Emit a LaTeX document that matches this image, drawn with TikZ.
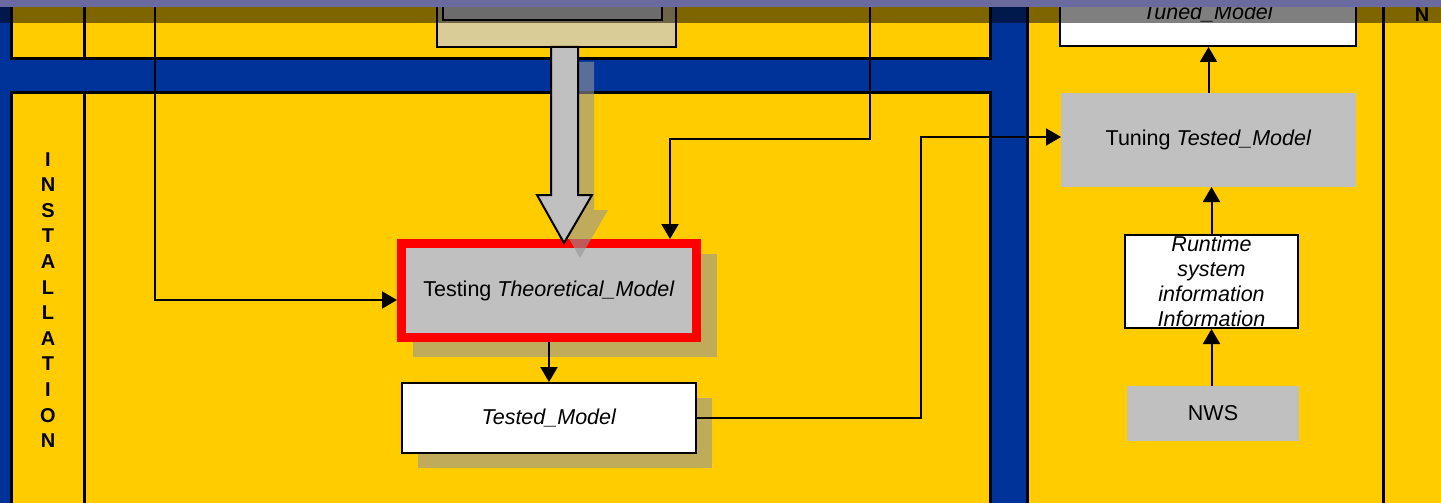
\documentclass[tikz,border=0pt]{standalone}
\usepackage{fontspec}
\setmainfont{Liberation Sans}
\usetikzlibrary{arrows.meta,calc}

\definecolor{laneblue}{RGB}{0,51,153}
\definecolor{laneyellow}{RGB}{255,204,0}
\definecolor{boxgray}{RGB}{192,192,192}
\definecolor{framered}{RGB}{255,0,0}
\definecolor{topslate}{RGB}{106,106,158}
\definecolor{hazebox}{RGB}{218,204,150}
\definecolor{shadowgray}{RGB}{150,150,150}

\begin{document}
\begin{tikzpicture}[x=1pt,y=-1pt,
  lane/.style={fill=laneyellow,draw=black,line width=3pt},
  lanerule/.style={draw=black,line width=3pt},
  boxbase/.style={inner sep=0pt,outer sep=0pt,align=center,
    font=\fontsize{21.5}{25}\selectfont},
  plainbox/.style={boxbase,fill=boxgray},
  whitebox/.style={boxbase,fill=white,draw=black,line width=2pt,outer sep=1pt},
  shadowbox/.style={fill=shadowgray,fill opacity=0.6},
  lanelabel/.style={inner sep=0pt,align=center,
    font=\bfseries\fontsize{20}{25.6}\selectfont},
  conn/.style={draw=black,line width=2pt,-{Triangle[length=15pt,width=17pt]}},
  blockarrow/.style={fill=boxgray,draw=black,line width=2pt,line join=miter}
]
\useasboundingbox (0,0) rectangle (1441,503);
\clip (0,0) rectangle (1441,503);

% background and swimlanes
\fill[laneblue] (0,0) rectangle (1441,503);
\draw[lane] (11,-10) rectangle (990,59);
\draw[lanerule] (84,-10) -- (84,59);
\draw[lane] (11,93) rectangle (990,520);
\draw[lanerule] (84,93) -- (84,520);
\fill[laneyellow] (1027,-10) rectangle (1450,520);
\draw[lanerule] (1027,-10) -- (1027,520);
\draw[lanerule] (1383,-10) -- (1383,520);

% lane labels
\node[lanelabel] (installlabel) at (48,300) {I\\N\\S\\T\\A\\L\\L\\A\\T\\I\\O\\N};
\node[lanelabel,anchor=base] (nlabel) at (1422,22) {N};

% source box at the top of the block arrow
\node[draw=black,line width=2pt,fill=hazebox,inner sep=0pt,
  minimum width=239,minimum height=67] (topbox) at (556.5,13.5) {};
\node[draw=black,line width=1.5pt,fill=boxgray!60!white,inner sep=0pt,
  minimum width=219,minimum height=40] (topinner) at (552.5,0) {};

% drop shadows of the two left boxes
\fill[shadowbox] (418,398) rectangle (712,468);
\fill[shadowbox] (413,254) rectangle (717,357);

% testing step
\node[plainbox,draw=framered,line width=9pt,outer sep=4.5pt,
  minimum width=295,minimum height=94] (testing) at (549,290.5)
  {Testing \textit{Theoretical\_Model}};

% tested model
\node[whitebox,minimum width=294,minimum height=70] (tested) at (549,418)
  {\textit{Tested\_Model}};

% block arrow and its shadow
\fill[shadowbox] (567,62) -- (567,210) -- (553,210) -- (580,258)
  -- (608,210) -- (594,210) -- (594,62) -- cycle;
\draw[blockarrow] (551,47) -- (551,195) -- (537,195) -- (564,243)
  -- (592,195) -- (578,195) -- (578,47) -- cycle;

% right lane
\node[plainbox,minimum width=295,minimum height=94] (tuning) at (1208.5,140)
  {Tuning \textit{Tested\_Model}};
\node[whitebox,minimum width=173,minimum height=93,
  font=\itshape\fontsize{21.5}{25}\selectfont] (runtime) at (1211.5,281.5)
  {Runtime\\system\\information\\Information};
\node[plainbox,minimum width=172,minimum height=55] (nws) at (1213,413.5) {NWS};
\node[whitebox,minimum width=296,minimum height=66] (tuned) at (1208,13)
  {\textit{Tuned\_Model}};

% connectors
\coordinate (feedA) at (155,-10);
\coordinate (feedB) at (870,-10);
\coordinate (turnB) at (670,139);
\coordinate (turnC) at (921,137);
\draw[conn] (feedA) |- ([yshift=-9.5pt]testing.west);
\draw[conn] (feedB) |- (turnB) -- (turnB |- testing.north);
\draw[conn] (testing) -- (tested);
\draw[conn] (tested.east) -| (turnC) -- (turnC -| tuning.west);
\draw[conn] (nws.north -| runtime.south) -- (runtime.south);
\draw[conn] (runtime.north) -- (runtime.north |- tuning.south);
\draw[conn] (tuning.north) -- (tuning.north |- tuned.south);

% darkened strip under the title bar
\fill[black,opacity=0.5] (0,7) rectangle (1441,23);
\fill[topslate] (0,0) rectangle (1441,7);
\end{tikzpicture}
\end{document}
